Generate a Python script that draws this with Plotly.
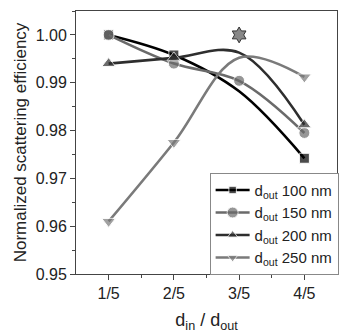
import plotly.graph_objects as go

x_labels = ["1/5", "2/5", "3/5", "4/5"]
x_pos = [1, 2, 3, 4]

series_names = ["100 nm", "150 nm", "200 nm", "250 nm"]
eff_100 = [1.000, 0.9958, 0.9882, 0.9742]
eff_150 = [1.000, 0.9940, 0.9904, 0.9795]
eff_200 = [0.9940, 0.9952, 0.9963, 0.9812]
eff_250 = [0.9610, 0.9775, 0.9952, 0.9912]
star_x = [3]
star_y = [1.000]

colors = ["#000000", "#6a6a6a", "#2e2e2e", "#7a7a7a"]
symbols = ["square", "circle", "triangle-up", "triangle-down"]
marker_sizes = [[10, 10, 0, 10], [11, 11, 11, 11], [12, 12, 0, 12], [12, 12, 0, 12]]

fig = go.Figure()
for name, ys, c, s, ms in zip(series_names, [eff_100, eff_150, eff_200, eff_250], colors, symbols, marker_sizes):
    fig.add_trace(go.Scatter(
        x=x_pos, y=ys, mode="lines+markers", line=dict(color=c, width=2.6, shape="spline", smoothing=1.0),
        marker=dict(symbol=s, size=ms, color=c),
        name="d<sub>out</sub> " + name))

fig.add_trace(go.Scatter(x=star_x, y=star_y, mode="markers", showlegend=False,
                         marker=dict(symbol="hexagram", size=12, color="#888888",
                                     line=dict(color="#333333", width=1))))

fig.update_layout(
    width=340, height=333, margin=dict(l=76, r=2, t=11, b=59),
    paper_bgcolor="white", plot_bgcolor="white",
    font=dict(family="Liberation Sans, Arial", color="#222"),
    legend=dict(x=0.51, y=0.385, xanchor="left", yanchor="top", bgcolor="white",
                bordercolor="#888", borderwidth=1, font=dict(size=15), tracegroupgap=0,
                itemwidth=34),
    xaxis=dict(range=[0.5, 4.5], tickvals=x_pos, ticktext=x_labels, ticks="outside", ticklen=5,
               showline=True, linecolor="#444", linewidth=1, mirror=True, showgrid=False, zeroline=False,
               tickfont=dict(size=16), minor=dict(tickvals=[1.5, 2.5, 3.5], ticks="outside", ticklen=3),
               title=dict(text="d<sub>in</sub> / d<sub>out</sub>", font=dict(size=18), standoff=16)),
    yaxis=dict(range=[0.95, 1.005], dtick=0.01, tickformat=".2f", ticks="outside", ticklen=5,
               showline=True, linecolor="#444", linewidth=1, mirror=True, showgrid=False, zeroline=False,
               tickfont=dict(size=16), minor=dict(dtick=0.005, ticks="outside", ticklen=3),
               title=dict(text="Normalized scattering efficiency", font=dict(size=17), standoff=4)),
)

fig.write_html("out.html")
